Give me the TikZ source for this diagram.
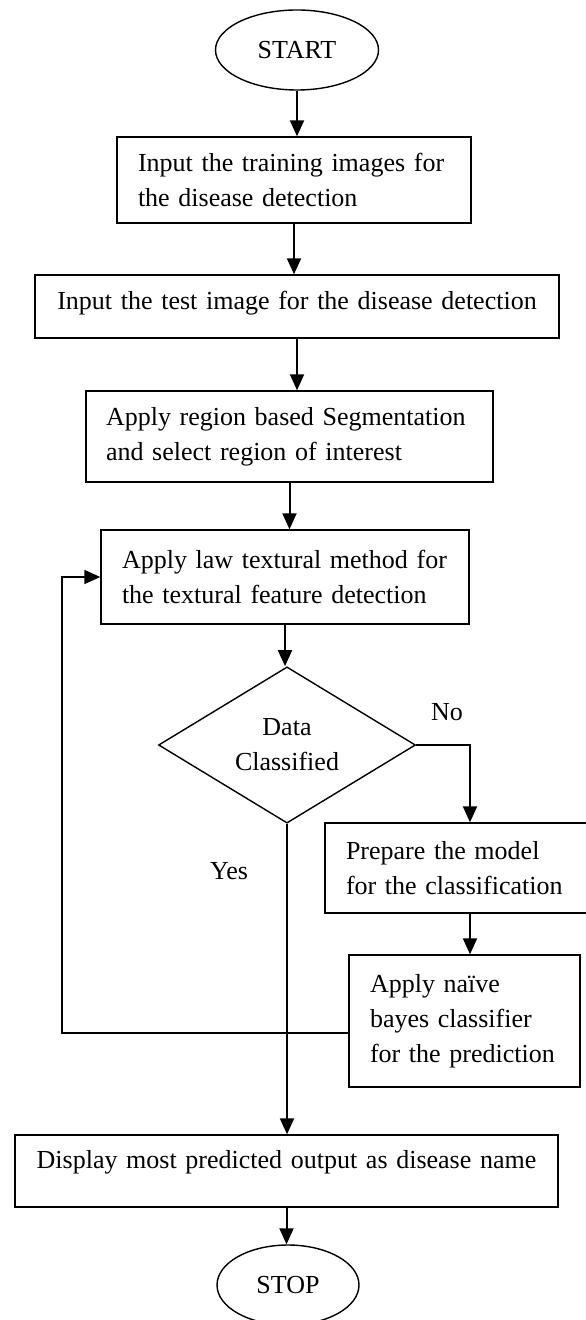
\documentclass[tikz,border=0pt]{standalone}
\usepackage{fontspec}
\setmainfont{Liberation Serif}
\usetikzlibrary{arrows.meta, positioning, shapes.geometric}

\begin{document}
\begin{tikzpicture}[x=0.5pt, y=-0.5pt, font=\fontsize{13}{17.5}\selectfont,
    flowbox/.style={draw, line width=0.7pt, inner xsep=10.5pt, inner ysep=0pt, align=left},
    term/.style={draw, ellipse, line width=0.7pt, inner sep=0pt},
    flowarrow/.style={line width=1pt, -{Triangle[length=8pt, width=7pt]}}]
  \useasboundingbox (0,0) rectangle (585,1320);

  % terminals
  \node[term, minimum width=81.5pt, minimum height=40pt] (start) at (297,50) {START};
  \node[term, minimum width=71pt, minimum height=40pt] (stop) at (288,1285) {STOP};

  % main column
  \node[flowbox, text width=156pt, minimum height=43pt] (box1) at (294,180)
    {Input the training images for\\the disease detection};
  \node[flowbox, text width=241pt, minimum height=31.5pt, align=center, text depth=6pt] (box2) at (297,306.5)
    {Input the test image for the disease detection};
  \node[flowbox, text width=183.5pt, inner xsep=10pt, minimum height=45.5pt] (box3) at (289.5,436.5)
    {Apply region based Segmentation\\and select region of interest};
  \node[flowbox, text width=163pt, minimum height=47pt] (box4) at (285,577)
    {Apply law textural method for\\the textural feature detection};
  \node[draw, diamond, line width=0.7pt, inner sep=0pt, minimum width=128.5pt,
        minimum height=77pt, align=center] (dec) at (287,745) {Data\\Classified};

  % classifier branch
  \node[flowbox, text width=124pt, minimum height=45pt] (box5) at (470,868)
    {Prepare the model\\for the classification};
  \node[flowbox, text width=94.5pt, minimum height=66pt] (box6) at (464.5,1021)
    {Apply na\"{\i}ve\\bayes classifier\\for the prediction};

  \node[flowbox, text width=250.5pt, minimum height=36pt, align=center, text depth=12pt] (box7) at (286.5,1171)
    {Display most predicted output as disease name};

  \node (no) at (447,712) {No};
  \node (yes) at (229,871) {Yes};
  \coordinate (loop) at (62,1033);

  % connectors
  \foreach \a/\b in {start/box1, box1/box2, box2/box3, box3/box4, box4/dec, box7/stop}
    \draw[flowarrow] (\a.south) -- (\a.south |- \b.north);
  \draw[flowarrow] (dec.south) -- (dec.south |- box7.north);
  \draw[flowarrow] (dec.east) -| (box5.north);
  \draw[flowarrow] (box5.south) -- (box5.south |- box6.north);
  \draw[flowarrow, line width=0.8pt] (box6.west |- loop) -- (loop) |- (box4.west);
\end{tikzpicture}
\end{document}
